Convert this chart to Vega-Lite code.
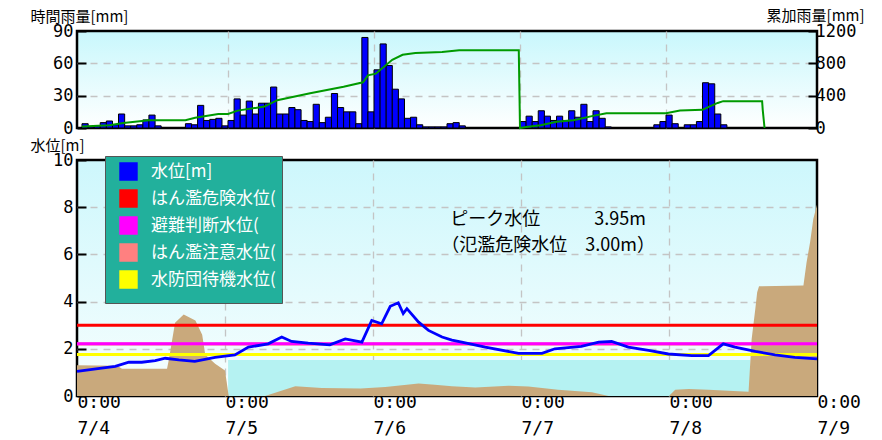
{
  "$schema": "https://vega.github.io/schema/vega-lite/v6.json",
  "background": "white",
  "padding": {"left": 28, "top": 6, "right": 0, "bottom": 0},
  "spacing": 32,
  "bounds": "flush",
  "resolve": {"scale": {"color": "independent"}, "legend": {"color": "independent"}},
  "config": {
    "view": {"stroke": "#000000", "strokeWidth": 2.5},
    "font": "Noto Sans CJK JP",
    "axis": {
      "labelFont": "DejaVu Sans Mono", "labelFontSize": 17, "labelColor": "#000000",
      "gridColor": "#c4c4c4", "gridDash": [7, 6], "gridWidth": 1.3,
      "domain": false, "tickColor": "#000000", "tickWidth": 2, "tickSize": -9,
      "titleFont": "Noto Sans CJK JP", "titleFontSize": 15, "titleFontWeight": "normal", "titleColor": "#000000"
    }
  },
  "vconcat": [
    {
      "width": 740,
      "height": 97,
      "view": {"fill": {"gradient": "linear", "x1": 0, "y1": 0, "x2": 0, "y2": 1, "stops": [{"offset": 0, "color": "#c8f7fc"}, {"offset": 1, "color": "#ffffff"}]}},
      "layer": [
        {
          "data": {"values": [
            {"h": 0, "r": 4}, {"h": 1, "r": 1}, {"h": 2, "r": 2}, {"h": 3, "r": 5}, {"h": 4, "r": 6.5}, {"h": 5, "r": 3},
            {"h": 6, "r": 13}, {"h": 7, "r": 2}, {"h": 8, "r": 2}, {"h": 9, "r": 3}, {"h": 10, "r": 7.5}, {"h": 11, "r": 12},
            {"h": 12, "r": 2}, {"h": 17, "r": 4}, {"h": 18, "r": 3}, {"h": 19, "r": 21}, {"h": 20, "r": 7}, {"h": 21, "r": 8},
            {"h": 22, "r": 9}, {"h": 23, "r": 2}, {"h": 24, "r": 7}, {"h": 25, "r": 27}, {"h": 26, "r": 12}, {"h": 27, "r": 25},
            {"h": 28, "r": 13}, {"h": 29, "r": 23}, {"h": 30, "r": 23}, {"h": 31, "r": 38}, {"h": 32, "r": 13}, {"h": 33, "r": 13},
            {"h": 34, "r": 19}, {"h": 35, "r": 17}, {"h": 36, "r": 7}, {"h": 37, "r": 6}, {"h": 38, "r": 22}, {"h": 39, "r": 5},
            {"h": 40, "r": 10}, {"h": 41, "r": 32}, {"h": 42, "r": 19}, {"h": 43, "r": 15}, {"h": 44, "r": 15}, {"h": 45, "r": 4},
            {"h": 46, "r": 84}, {"h": 47, "r": 15}, {"h": 48, "r": 54}, {"h": 49, "r": 78}, {"h": 50, "r": 58}, {"h": 51, "r": 36},
            {"h": 52, "r": 27}, {"h": 53, "r": 9}, {"h": 54, "r": 10}, {"h": 55, "r": 3}, {"h": 56, "r": 1}, {"h": 57, "r": 1},
            {"h": 58, "r": 1}, {"h": 59, "r": 1}, {"h": 60, "r": 4}, {"h": 61, "r": 5}, {"h": 62, "r": 2},
            {"h": 72, "r": 6}, {"h": 73, "r": 11}, {"h": 74, "r": 6}, {"h": 75, "r": 16}, {"h": 76, "r": 11}, {"h": 77, "r": 7},
            {"h": 78, "r": 11}, {"h": 79, "r": 7}, {"h": 80, "r": 16}, {"h": 81, "r": 10}, {"h": 82, "r": 22}, {"h": 83, "r": 6},
            {"h": 84, "r": 16}, {"h": 85, "r": 9}, {"h": 86, "r": 1},
            {"h": 94, "r": 3}, {"h": 95, "r": 6}, {"h": 96, "r": 12}, {"h": 97, "r": 4}, {"h": 99, "r": 3}, {"h": 100, "r": 3},
            {"h": 101, "r": 6}, {"h": 102, "r": 42}, {"h": 103, "r": 41}, {"h": 104, "r": 13}, {"h": 105, "r": 3}
          ]},
          "mark": {"type": "bar", "width": 6.17, "xOffset": 3.08, "fill": "#0000ff", "stroke": "#000000", "strokeWidth": 1},
          "encoding": {
            "x": {"field": "h", "type": "quantitative", "scale": {"domain": [0, 120], "nice": false, "zero": false},
                  "axis": {"values": [0, 24, 48, 72, 96, 120], "labels": false, "ticks": false, "domain": false, "title": null, "grid": true,
                           "gridOpacity": {"condition": {"test": "datum.value == 0 || datum.value == 120", "value": 0}, "value": 1}}},
            "y": {"field": "r", "type": "quantitative", "scale": {"domain": [0, 90], "nice": false},
                  "axis": {"values": [0, 30, 60, 90], "title": "時間雨量[mm]", "titleAngle": 0, "titleAlign": "left", "titleBaseline": "alphabetic",
                           "titleX": -47, "titleY": -10, "labelPadding": 13, "grid": true,
                           "gridOpacity": {"condition": {"test": "datum.value == 0 || datum.value == 90", "value": 0}, "value": 1}}}
          }
        },
        {
          "data": {"values": [
            {"h": 0, "c": 20}, {"h": 4.5, "c": 34}, {"h": 6.8, "c": 63}, {"h": 11, "c": 97}, {"h": 17, "c": 97}, {"h": 18.6, "c": 126},
            {"h": 22.4, "c": 173}, {"h": 24, "c": 173}, {"h": 25.6, "c": 215}, {"h": 30, "c": 265}, {"h": 32.1, "c": 344},
            {"h": 37.5, "c": 430}, {"h": 43, "c": 510}, {"h": 46.2, "c": 566}, {"h": 47, "c": 651}, {"h": 48.3, "c": 672},
            {"h": 51, "c": 843}, {"h": 52.7, "c": 906}, {"h": 54.8, "c": 928}, {"h": 59.2, "c": 940}, {"h": 62, "c": 962},
            {"h": 71.8, "c": 962}, {"h": 71.85, "c": 715}, {"h": 72, "c": 0}, {"h": 73, "c": 12}, {"h": 75.4, "c": 34},
            {"h": 78, "c": 76}, {"h": 80.8, "c": 97}, {"h": 84, "c": 150}, {"h": 86.2, "c": 183}, {"h": 96, "c": 183},
            {"h": 98.3, "c": 217}, {"h": 102, "c": 225}, {"h": 103.2, "c": 268}, {"h": 104.5, "c": 310}, {"h": 105.4, "c": 332},
            {"h": 111.8, "c": 332}, {"h": 111.9, "c": 225}, {"h": 112.2, "c": 0}
          ]},
          "mark": {"type": "line", "color": "#009a00", "strokeWidth": 2},
          "encoding": {
            "x": {"field": "h", "type": "quantitative", "scale": {"domain": [0, 120], "nice": false, "zero": false}},
            "y": {"field": "c", "type": "quantitative", "scale": {"domain": [0, 1200], "nice": false},
                  "axis": {"orient": "right", "values": [0, 400, 800, 1200], "format": "d", "title": "累加雨量[mm]", "titleAngle": 0, "titleAlign": "right",
                           "titleBaseline": "alphabetic", "titleX": 47, "titleY": -11, "labelPadding": 7, "grid": false}}
          }
        }
      ],
      "resolve": {"scale": {"y": "independent"}}
    },
    {
      "width": 740,
      "height": 236,
      "view": {"fill": {"gradient": "linear", "x1": 0, "y1": 0, "x2": 0, "y2": 1, "stops": [{"offset": 0, "color": "#cdf7fc"}, {"offset": 1, "color": "#f7fefe"}]}},
      "layer": [
        {
          "data": {"values": [{"h": 24.5, "w": 1.53}, {"h": 109.2, "w": 1.53}]},
          "mark": {"type": "area", "color": "#b5f2f2", "opacity": 1},
          "encoding": {
            "x": {"field": "h", "type": "quantitative", "scale": {"domain": [0, 120], "nice": false, "zero": false},
                  "axis": {"values": [0, 24, 48, 72, 96, 120], "labelExpr": "['0:00', '7/' + (4 + datum.value / 24)]",
                           "labelAlign": "left", "labelFlush": false, "labelBaseline": "top", "labelPadding": -3, "labelLineHeight": 26,
                           "labelFontSize": 18, "ticks": false, "domain": false, "title": null, "grid": true, "labelOverlap": false,
                           "gridOpacity": {"condition": {"test": "datum.value == 0 || datum.value == 120", "value": 0}, "value": 1}}},
            "y": {"field": "w", "type": "quantitative", "scale": {"domain": [0, 10], "nice": false},
                  "axis": {"values": [0, 2, 4, 6, 8, 10], "title": "水位[m]", "titleAngle": 0, "titleAlign": "left", "titleBaseline": "alphabetic",
                           "titleX": -47, "titleY": -10, "labelPadding": 13, "grid": true, "labelOverlap": false,
                           "gridOpacity": {"condition": {"test": "datum.value == 0 || datum.value == 10", "value": 0}, "value": 1}}}
          }
        },
        {
          "data": {"values": [
            {"h": 0, "g": 1.3}, {"h": 6.5, "g": 1.28}, {"h": 7.3, "g": 1.15}, {"h": 14.6, "g": 1.15}, {"h": 14.9, "g": 1.55},
            {"h": 15.9, "g": 3.1}, {"h": 17.3, "g": 3.45}, {"h": 19.2, "g": 3.2}, {"h": 20.3, "g": 2.6}, {"h": 20.8, "g": 1.75},
            {"h": 22.4, "g": 1.37}, {"h": 24, "g": 1.08}, {"h": 24.6, "g": 0}, {"h": 30.5, "g": 0}, {"h": 35.4, "g": 0.41},
            {"h": 39.7, "g": 0.34}, {"h": 46, "g": 0.32}, {"h": 50, "g": 0.38}, {"h": 55.4, "g": 0.53}, {"h": 58, "g": 0.48},
            {"h": 60.8, "g": 0.41}, {"h": 64.6, "g": 0.36}, {"h": 70, "g": 0.43}, {"h": 73.2, "g": 0.4}, {"h": 78, "g": 0.26},
            {"h": 83.5, "g": 0.16}, {"h": 86.2, "g": 0}, {"h": 96, "g": 0}, {"h": 97, "g": 0.26}, {"h": 99.2, "g": 0.3},
            {"h": 102.4, "g": 0.26}, {"h": 105.6, "g": 0.22}, {"h": 108.9, "g": 0.18}, {"h": 109.4, "g": 2.4}, {"h": 110, "g": 3.7},
            {"h": 110.3, "g": 4.4}, {"h": 110.6, "g": 4.65}, {"h": 117.8, "g": 4.68}, {"h": 118.3, "g": 5.65}, {"h": 118.9, "g": 6.55},
            {"h": 119.4, "g": 7.5}, {"h": 120, "g": 8.1}
          ]},
          "mark": {"type": "area", "color": "#c9a97c", "opacity": 1},
          "encoding": {
            "x": {"field": "h", "type": "quantitative"},
            "y": {"field": "g", "type": "quantitative", "stack": null}
          }
        },
        {
          "data": {"values": [
            {"name": "水防団待機水位(", "v": 1.76},
            {"name": "はん濫注意水位(", "v": 2.2},
            {"name": "避難判断水位(", "v": 2.21},
            {"name": "はん濫危険水位(", "v": 3.0}
          ]},
          "mark": {"type": "rule", "strokeWidth": 3},
          "encoding": {
            "y": {"field": "v", "type": "quantitative"},
            "color": {"field": "name", "type": "nominal",
                      "scale": {"domain": ["水位[m]", "はん濫危険水位(", "避難判断水位(", "はん濫注意水位(", "水防団待機水位("],
                                "range": ["#0000ff", "#ff0000", "#ff00ff", "#ff8080", "#ffff00"]},
                      "legend": {"orient": "none", "legendX": 28, "legendY": -4, "title": null, "symbolType": "square",
                                 "symbolSize": 180, "fillColor": "#22b09c",
                                 "strokeColor": "#555555", "padding": 6, "labelColor": "#ffffff", "labelFont": "Noto Sans CJK JP",
                                 "labelFontSize": 17, "labelOffset": 13, "rowPadding": -9, "labelLimit": 300, "symbolOffset": 8,
                                 "encode": {"symbols": {"update": {
                                   "fill": {"signal": "datum.value === '水位[m]' ? '#0000ff' : datum.value === 'はん濫危険水位(' ? '#ff0000' : datum.value === '避難判断水位(' ? '#ff00ff' : datum.value === 'はん濫注意水位(' ? '#ff8080' : '#ffff00'"},
                                   "stroke": {"value": "#ffffff"}, "strokeWidth": {"value": 5}, "opacity": {"value": 1}, "fillOpacity": {"value": 1}}}}}}
          }
        },
        {
          "data": {"values": [
            {"h": 0, "m": 1.04}, {"h": 4, "m": 1.18}, {"h": 6.2, "m": 1.26}, {"h": 8.4, "m": 1.43}, {"h": 10.5, "m": 1.43},
            {"h": 12.7, "m": 1.5}, {"h": 14.3, "m": 1.6}, {"h": 16.5, "m": 1.53}, {"h": 19.1, "m": 1.47}, {"h": 22.4, "m": 1.64},
            {"h": 25.6, "m": 1.74}, {"h": 27.8, "m": 2.07}, {"h": 31, "m": 2.21}, {"h": 33.2, "m": 2.5}, {"h": 34.8, "m": 2.31},
            {"h": 37.5, "m": 2.24}, {"h": 41, "m": 2.17}, {"h": 43.5, "m": 2.42}, {"h": 46.2, "m": 2.28}, {"h": 47.8, "m": 3.2},
            {"h": 49.4, "m": 3.06}, {"h": 50.8, "m": 3.8}, {"h": 52.1, "m": 3.95}, {"h": 52.9, "m": 3.49}, {"h": 53.5, "m": 3.7},
            {"h": 55.4, "m": 3.13}, {"h": 57, "m": 2.78}, {"h": 59.2, "m": 2.5}, {"h": 60.8, "m": 2.37}, {"h": 62.4, "m": 2.28},
            {"h": 66.2, "m": 2.07}, {"h": 71.6, "m": 1.81}, {"h": 75.4, "m": 1.81}, {"h": 77.5, "m": 2.0}, {"h": 81.8, "m": 2.1},
            {"h": 84.6, "m": 2.28}, {"h": 86.7, "m": 2.31}, {"h": 89.4, "m": 2.07}, {"h": 92.7, "m": 1.93}, {"h": 95.9, "m": 1.78},
            {"h": 99.7, "m": 1.71}, {"h": 102.4, "m": 1.71}, {"h": 104.8, "m": 2.21}, {"h": 106.7, "m": 2.07}, {"h": 110, "m": 1.89},
            {"h": 113.2, "m": 1.74}, {"h": 116.4, "m": 1.64}, {"h": 120, "m": 1.57}
          ]},
          "mark": {"type": "line", "strokeWidth": 2.8},
          "encoding": {
            "x": {"field": "h", "type": "quantitative"},
            "y": {"field": "m", "type": "quantitative"},
            "color": {"datum": "水位[m]", "type": "nominal"}
          }
        },
        {
          "data": {"values": [
            {"h": 76.4, "m": 7.45, "t": "ピーク水位　　　3.95m"},
            {"h": 76.4, "m": 6.35, "t": "（氾濫危険水位　3.00m）"}
          ]},
          "mark": {"type": "text", "font": "Noto Sans CJK JP", "fontSize": 18, "color": "#000000", "align": "center", "baseline": "middle"},
          "encoding": {
            "x": {"field": "h", "type": "quantitative"},
            "y": {"field": "m", "type": "quantitative"},
            "text": {"field": "t"}
          }
        }
      ]
    }
  ]
}
